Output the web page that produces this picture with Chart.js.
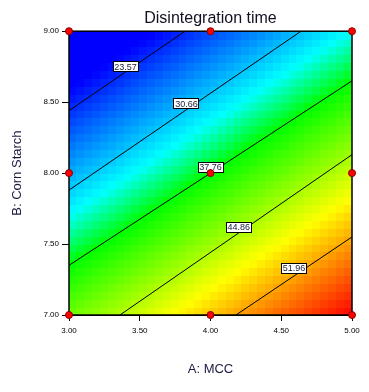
<!DOCTYPE html>
<html>
<head>
<meta charset="utf-8">
<script src="https://cdn.jsdelivr.net/npm/chart.js@4/dist/chart.umd.min.js"></script>
<style>
  html, body { margin: 0; padding: 0; background: #ffffff; }
  #wrap { width: 369px; height: 392px; }
</style>
</head>
<body>
<div id="wrap"><canvas id="c" width="369" height="392"></canvas></div>
<script>
// ---- data ----
const mccTicks = [3.00, 3.50, 4.00, 4.50, 5.00];
const starchTicks = [7.00, 7.50, 8.00, 8.50, 9.00];

// response surface (disintegration time) read at grid points
const gridMCC = [3.0, 3.5, 4.0, 4.5, 5.0];
const gridStarch = [9.0, 8.5, 8.0, 7.5, 7.0];
const responseRow90 = [16.4, 20.6, 24.8, 29.0, 33.2];
const responseRow85 = [22.8, 27.0, 31.3, 35.5, 39.7];
const responseRow80 = [29.3, 33.5, 37.8, 42.0, 46.2];
const responseRow75 = [35.8, 40.0, 44.3, 48.5, 52.7];
const responseRow70 = [42.3, 46.5, 50.8, 55.0, 59.1];
const responseMin = 16.47;
const responseMax = 59.06;

// contour lines
const contourLevels = [23.57, 30.66, 37.76, 44.86, 51.96];
const contourStartMCC = [3.00, 3.00, 3.00, 3.36, 4.18];
const contourStartStarch = [8.44, 7.88, 7.35, 7.00, 7.00];
const contourEndMCC = [3.82, 4.64, 5.00, 5.00, 5.00];
const contourEndStarch = [9.00, 9.00, 8.65, 8.13, 7.55];
const labelMCC = [3.40, 3.83, 4.00, 4.20, 4.59];
const labelStarch = [8.75, 8.49, 8.04, 7.62, 7.33];

// design points
const designMCC = [3, 4, 5, 3, 4, 5, 3, 4, 5];
const designStarch = [9, 9, 9, 8, 8, 8, 7, 7, 7];

const responseGrid = [responseRow90, responseRow85, responseRow80, responseRow75, responseRow70];

// colour map stops (fraction of range -> rgb)
const colorStops = [
  [0.00, [0, 0, 255]],
  [0.12, [0, 0, 255]],
  [0.39, [0, 255, 255]],
  [0.50, [0, 255, 0]],
  [0.75, [255, 255, 0]],
  [1.00, [255, 0, 0]]
];

// ---- helpers ----
function surfaceAt(a, b) {
  const fx = (a - gridMCC[0]) / (gridMCC[1] - gridMCC[0]);
  const fy = (gridStarch[0] - b) / (gridStarch[0] - gridStarch[1]);
  let i = Math.min(Math.max(Math.floor(fx), 0), gridMCC.length - 2);
  let j = Math.min(Math.max(Math.floor(fy), 0), gridStarch.length - 2);
  const tx = fx - i, ty = fy - j;
  const v00 = responseGrid[j][i], v10 = responseGrid[j][i + 1];
  const v01 = responseGrid[j + 1][i], v11 = responseGrid[j + 1][i + 1];
  return (v00 * (1 - tx) + v10 * tx) * (1 - ty) + (v01 * (1 - tx) + v11 * tx) * ty;
}
function rainbow(v) {
  let t = (v - responseMin) / (responseMax - responseMin);
  t = Math.min(1, Math.max(0, t));
  for (let k = 1; k < colorStops.length; k++) {
    const [t1, c1] = colorStops[k];
    const [t0, c0] = colorStops[k - 1];
    if (t <= t1) {
      const f = (t - t0) / (t1 - t0);
      const c = c0.map((x, n) => Math.round(x + (c1[n] - x) * f));
      return 'rgb(' + c.join(',') + ')';
    }
  }
  return 'rgb(255,0,0)';
}

const heatPlugin = {
  id: 'heat',
  beforeDatasetsDraw(chart) {
    const ctx = chart.ctx, xs = chart.scales.x, ys = chart.scales.y;
    const N = 36;
    const a0 = xs.min, a1 = xs.max, b0 = ys.min, b1 = ys.max;
    ctx.save();
    for (let i = 0; i < N; i++) {
      for (let j = 0; j < N; j++) {
        const aL = a0 + (a1 - a0) * i / N, aR = a0 + (a1 - a0) * (i + 1) / N;
        const bB = b0 + (b1 - b0) * j / N, bT = b0 + (b1 - b0) * (j + 1) / N;
        const v = surfaceAt((aL + aR) / 2, (bB + bT) / 2);
        const x0 = Math.floor(xs.getPixelForValue(aL)), x1 = Math.ceil(xs.getPixelForValue(aR));
        const y0 = Math.floor(ys.getPixelForValue(bT)), y1 = Math.ceil(ys.getPixelForValue(bB));
        ctx.fillStyle = rainbow(v);
        ctx.fillRect(x0, y0, x1 - x0, y1 - y0);
      }
    }
    const ca = chart.chartArea;
    ctx.strokeStyle = '#000';
    ctx.lineWidth = 1.5;
    ctx.strokeRect(ca.left, ca.top, ca.right - ca.left, ca.bottom - ca.top);
    ctx.restore();
  },
  beforeDatasetDraw(chart, args) {
    if (args.index !== 0) return;
    const ctx = chart.ctx, xs = chart.scales.x, ys = chart.scales.y;
    ctx.save();
    ctx.font = '9px Arial, "Liberation Sans", sans-serif';
    ctx.textAlign = 'center';
    ctx.textBaseline = 'middle';
    for (let k = 0; k < contourLevels.length; k++) {
      const px = xs.getPixelForValue(labelMCC[k]);
      const py = ys.getPixelForValue(labelStarch[k]);
      const w = 26, h = 11;
      ctx.fillStyle = '#ffffff';
      ctx.fillRect(Math.round(px - w / 2), Math.round(py - h / 2), w, h);
      ctx.strokeStyle = '#000';
      ctx.lineWidth = 1;
      ctx.strokeRect(Math.round(px - w / 2) + 0.5, Math.round(py - h / 2) + 0.5, w - 1, h - 1);
      ctx.fillStyle = '#1a1a3a';
      ctx.fillText(contourLevels[k].toFixed(2), px, py + 0.5);
    }
    ctx.restore();
  }
};

const datasets = [{
  type: 'scatter',
  data: designMCC.map((a, i) => ({ x: a, y: designStarch[i] })),
  backgroundColor: '#ff0000',
  borderColor: '#8a0000',
  borderWidth: 1,
  pointRadius: 3.5,
  clip: false,
  order: 0
}];
for (let k = 0; k < contourLevels.length; k++) {
  datasets.push({
    type: 'line',
    data: [{ x: contourStartMCC[k], y: contourStartStarch[k] }, { x: contourEndMCC[k], y: contourEndStarch[k] }],
    borderColor: '#000000',
    borderWidth: 1,
    pointRadius: 0,
    fill: false,
    tension: 0,
    order: 1
  });
}

const fontFam = 'Arial, "Liberation Sans", sans-serif';
new Chart(document.getElementById('c'), {
  type: 'scatter',
  data: { datasets },
  plugins: [heatPlugin],
  options: {
    responsive: false,
    animation: false,
    events: [],
    layout: { padding: { left: 0, right: 17, top: 0, bottom: 0 } },
    plugins: {
      legend: { display: false },
      tooltip: { enabled: false },
      title: {
        display: true,
        fullSize: false,
        text: 'Disintegration time',
        color: '#111122',
        font: { family: fontFam, size: 16, weight: 'normal' },
        padding: { top: 9, bottom: 3 }
      }
    },
    scales: {
      x: {
        type: 'linear', min: 3, max: 5,
        afterBuildTicks: s => { s.ticks = mccTicks.map(v => ({ value: v })); },
        afterFit: s => { s.height = 77; },
        ticks: { callback: v => Number(v).toFixed(2), color: '#000', font: { family: fontFam, size: 8 }, padding: 5, maxRotation: 0 },
        grid: { drawOnChartArea: false, drawTicks: true, tickLength: 6, tickColor: '#000', color: '#000' },
        border: { color: '#000', width: 1 },
        title: { display: true, text: 'A: MCC', color: '#1a1a40', font: { family: fontFam, size: 13 }, padding: { top: 0, bottom: 15 } }
      },
      y: {
        type: 'linear', min: 7, max: 9,
        afterBuildTicks: s => { s.ticks = starchTicks.map(v => ({ value: v })); },
        afterFit: s => { s.width = 69; },
        ticks: { callback: v => Number(v).toFixed(2), color: '#000', font: { family: fontFam, size: 8 }, padding: 3 },
        grid: { drawOnChartArea: false, drawTicks: true, tickLength: 7, tickColor: '#000', color: '#000' },
        border: { color: '#000', width: 1 },
        title: { display: true, text: 'B: Corn Starch', color: '#1a1a40', font: { family: fontFam, size: 13 }, padding: { top: 10, bottom: 0 } }
      }
    }
  }
});
</script>
</body>
</html>
